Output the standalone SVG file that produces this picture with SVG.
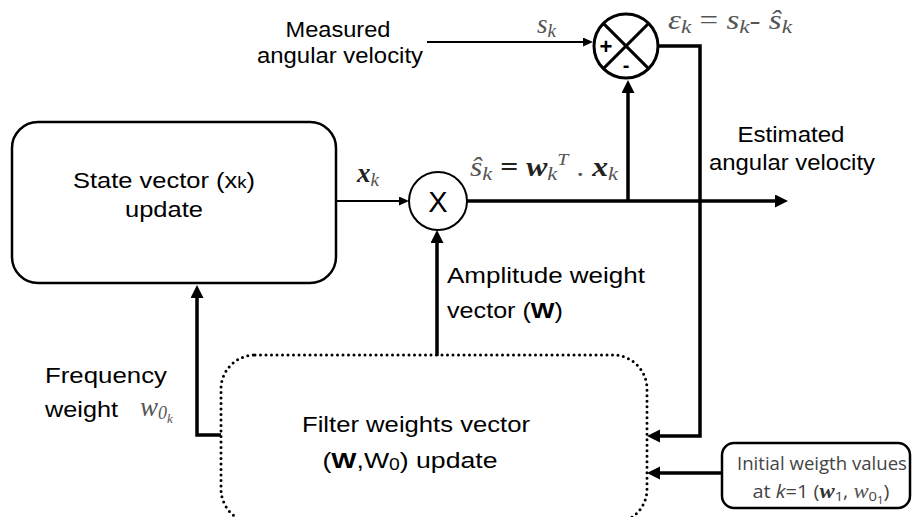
<svg xmlns="http://www.w3.org/2000/svg" width="912" height="517" viewBox="0 0 912 517">
<style>
.t{font-family:"Liberation Sans",Arial,sans-serif;font-size:22px;fill:#000}
.m{font-family:"Liberation Serif","DejaVu Serif",serif;font-style:italic;font-size:27px;fill:#555}
.b{font-weight:bold;fill:#222}
.c{font-family:"Open Sans","Noto Sans",sans-serif;font-size:17.5px;fill:#444}
.thick{stroke:#000;stroke-width:3.5;fill:none}
.thin{stroke:#000;stroke-width:2;fill:none}
.box{stroke:#000;stroke-width:2.5;fill:#fff}
.dot{stroke:#000;stroke-width:3;fill:none;stroke-dasharray:0 5.5;stroke-linecap:round}
</style>
<defs>
<marker id="ah" markerUnits="userSpaceOnUse" markerWidth="14" markerHeight="14" refX="4" refY="6.5" orient="auto">
<path d="M0,0 L13,6.5 L0,13 z" fill="#000"/>
</marker>
<marker id="as" markerUnits="userSpaceOnUse" markerWidth="12" markerHeight="12" refX="3" refY="4.5" orient="auto">
<path d="M0,0 L10,4.5 L0,9 z" fill="#000"/>
</marker>
</defs>

<g id="connectors">
<line class="thin" x1="427" y1="42" x2="586" y2="42" marker-end="url(#as)"/>
<line class="thin" x1="336" y1="201" x2="402" y2="201" marker-end="url(#as)"/>
<line class="thick" x1="467" y1="201" x2="779" y2="201" marker-end="url(#ah)"/>
<line class="thick" x1="628" y1="201" x2="628" y2="89" marker-end="url(#ah)"/>
<polyline class="thick" points="659,46 700,46 700,436 656,436" marker-end="url(#ah)"/>
<line class="thick" x1="437" y1="356" x2="437" y2="239" marker-end="url(#ah)"/>
<polyline class="thick" points="221,435 197,435 197,294" marker-end="url(#ah)"/>
<line class="thick" x1="722" y1="473" x2="656" y2="473" marker-end="url(#ah)"/>
</g>

<g id="state">
<rect class="box" x="12" y="122" width="324" height="161" rx="26"/>
<text class="t" x="164" y="188" text-anchor="middle" textLength="182" lengthAdjust="spacingAndGlyphs">State vector (x<tspan font-size="16">k</tspan>)</text>
<text class="t" x="164" y="217" text-anchor="middle" textLength="78" lengthAdjust="spacingAndGlyphs">update</text>
</g>

<g id="multiplier">
<circle cx="438" cy="201" r="29" fill="#fff" stroke="#000" stroke-width="2"/>
<text class="t" x="438" y="212" text-anchor="middle" style="font-size:29px">X</text>
</g>

<g id="sum">
<circle cx="626" cy="46" r="32" fill="#fff" stroke="#000" stroke-width="3"/>
<line x1="603.4" y1="23.4" x2="648.6" y2="68.6" stroke="#000" stroke-width="3"/>
<line x1="648.6" y1="23.4" x2="603.4" y2="68.6" stroke="#000" stroke-width="3"/>
<text class="t b" x="606" y="54" text-anchor="middle" style="font-size:22px;fill:#000">+</text>
<text class="t b" x="626" y="72" text-anchor="middle" style="font-size:20px;fill:#000">-</text>
</g>

<g id="filter">
<rect class="dot" x="221" y="355" width="426" height="168" rx="34"/>
<text class="t" x="416" y="432" text-anchor="middle" textLength="228" lengthAdjust="spacingAndGlyphs">Filter weights vector</text>
<text class="t" x="410" y="468" text-anchor="middle" textLength="175" lengthAdjust="spacingAndGlyphs">(<tspan font-weight="bold">W</tspan>,W<tspan font-size="16" dy="2">0</tspan><tspan dy="-2">) update</tspan></text>
</g>

<g id="initial">
<rect class="box" x="722" y="443" width="188" height="65" rx="12"/>
<text class="c" x="822" y="470" text-anchor="middle" textLength="170" lengthAdjust="spacingAndGlyphs">Initial weigth values</text>
<text class="c" x="821" y="498" text-anchor="middle" textLength="137" lengthAdjust="spacingAndGlyphs">at <tspan font-style="italic">k</tspan>=1 (<tspan class="m b" style="font-size:20px;fill:#333">w</tspan><tspan font-size="13" dy="3">1</tspan><tspan dy="-3">, </tspan><tspan class="m" style="font-size:20px">w</tspan><tspan font-size="13" dy="3">0</tspan><tspan font-size="10" dy="3">1</tspan><tspan dy="-6">)</tspan></text>
</g>

<g id="labels">
<text class="t" x="338" y="37" text-anchor="middle" textLength="105" lengthAdjust="spacingAndGlyphs">Measured</text>
<text class="t" x="340" y="63" text-anchor="middle" textLength="166" lengthAdjust="spacingAndGlyphs">angular velocity</text>
<text class="m" x="537" y="33">s<tspan font-size="19" dy="4">k</tspan></text>
<text class="m" x="668" y="29" textLength="124" lengthAdjust="spacingAndGlyphs">ε<tspan font-size="19" dy="4">k</tspan><tspan dy="-4" font-style="normal"> = </tspan>s<tspan font-size="19" dy="4">k</tspan><tspan dy="-4" font-style="normal">- </tspan>ŝ<tspan font-size="19" dy="4">k</tspan></text>
<text class="m b" x="357" y="182">x<tspan font-size="19" dy="4" font-weight="normal" fill="#555">k</tspan></text>
<text class="m" x="470" y="176" textLength="148" lengthAdjust="spacingAndGlyphs">ŝ<tspan font-size="19" dy="4">k</tspan><tspan dy="-4" font-style="normal" class="b"> = </tspan><tspan class="b">w</tspan><tspan font-size="19" dy="4">k</tspan><tspan font-size="17" dy="-15">T</tspan><tspan dy="11" font-style="normal"> . </tspan><tspan class="b">x</tspan><tspan font-size="19" dy="4">k</tspan></text>
<text class="t" x="791" y="142" text-anchor="middle" textLength="107" lengthAdjust="spacingAndGlyphs">Estimated</text>
<text class="t" x="792" y="170" text-anchor="middle" textLength="166" lengthAdjust="spacingAndGlyphs">angular velocity</text>
<text class="t" x="447" y="283" textLength="198" lengthAdjust="spacingAndGlyphs">Amplitude weight</text>
<text class="t" x="447" y="318" textLength="116" lengthAdjust="spacingAndGlyphs">vector (<tspan font-weight="bold">W</tspan>)</text>
<text class="t" x="45" y="383" textLength="122" lengthAdjust="spacingAndGlyphs">Frequency</text>
<text class="t" x="45" y="417" textLength="73" lengthAdjust="spacingAndGlyphs">weight</text>
<text class="m" x="140" y="416">w<tspan font-size="18" dy="3">0</tspan><tspan font-size="13" dy="4">k</tspan></text>
</g>
</svg>
